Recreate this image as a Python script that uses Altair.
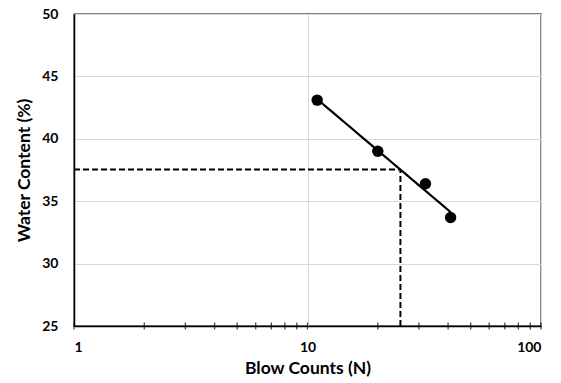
import altair as alt
import pandas as pd
import numpy as np

# Data
blows = [11, 20, 32, 41]
water = [43.1, 39.0, 36.4, 33.7]
ll_blows = 25
x_minor_ticks = [1, 2, 3, 4, 5, 6, 7, 8, 9, 10, 20, 30, 40, 50, 60, 70, 80, 90, 100]
x_labels = [1, 10, 100]
y_ticks = [25, 30, 35, 40, 45, 50]

# Liquid limit from log fit at N = 25
b, a = np.polyfit(np.log10(blows), water, 1)
ll_water = float(a + b * np.log10(ll_blows))

pts = pd.DataFrame({"N": blows, "W": water})
ticks_df = pd.DataFrame({"N": x_minor_ticks, "W": [y_ticks[0]] * len(x_minor_ticks)})
rules_df = pd.DataFrame({
    "N": [x_labels[0], ll_blows],
    "N2": [ll_blows, ll_blows],
    "W": [ll_water, y_ticks[0]],
    "W2": [ll_water, ll_water],
})

FONT = "Lato"
xs = alt.Scale(type="log", domain=[1, 100], nice=False)
ys = alt.Scale(domain=[25, 50], nice=False, zero=False)

xaxis = alt.Axis(values=x_labels, title="Blow Counts (N)", format="d", grid=True,
                 gridColor="#d9d9d9", gridWidth=1, ticks=False, labelPadding=14,
                 titlePadding=5, domainColor="black", domainWidth=1.5,
                 labelFont=FONT, labelFontSize=14, labelFontWeight="bold", labelColor="black",
                 titleFont=FONT, titleFontSize=17.5, titleFontWeight="bold", titleColor="black")
yaxis = alt.Axis(values=y_ticks, title="Water Content (%)", grid=True,
                 gridColor="#d9d9d9", gridWidth=1, ticks=False, labelPadding=16,
                 titlePadding=8, domainColor="black", domainWidth=1.5,
                 labelFont=FONT, labelFontSize=14, labelFontWeight="bold", labelColor="black",
                 titleFont=FONT, titleFontSize=17.5, titleFontWeight="bold", titleColor="black")

X = alt.X("N:Q", scale=xs, axis=xaxis)
Y = alt.Y("W:Q", scale=ys, axis=yaxis)

points = alt.Chart(pts).mark_circle(size=130, color="black", opacity=1).encode(x=X, y=Y)

trend = alt.Chart(pts).transform_regression("N", "W", method="log").mark_line(
    color="black", strokeWidth=2.2
).encode(x=X, y=Y)

rules = alt.Chart(rules_df).mark_rule(color="black", strokeWidth=2, strokeDash=[6, 3]).encode(
    x=X, x2="N2:Q", y=Y, y2="W2:Q",
)

minor = alt.Chart(ticks_df).mark_tick(orient="vertical", size=7, thickness=1.3, color="black").encode(
    x=X, y=Y,
)

chart = alt.layer(rules, trend, points, minor).properties(
    width=467, height=312,
    padding={"left": 74, "top": 14, "right": 20, "bottom": 57},
    autosize=alt.AutoSizeParams(type="none"),
    background="white",
).configure_view(stroke="black", strokeWidth=1.3)

chart.save("out.html", embed_options={"renderer": "svg", "actions": False})
